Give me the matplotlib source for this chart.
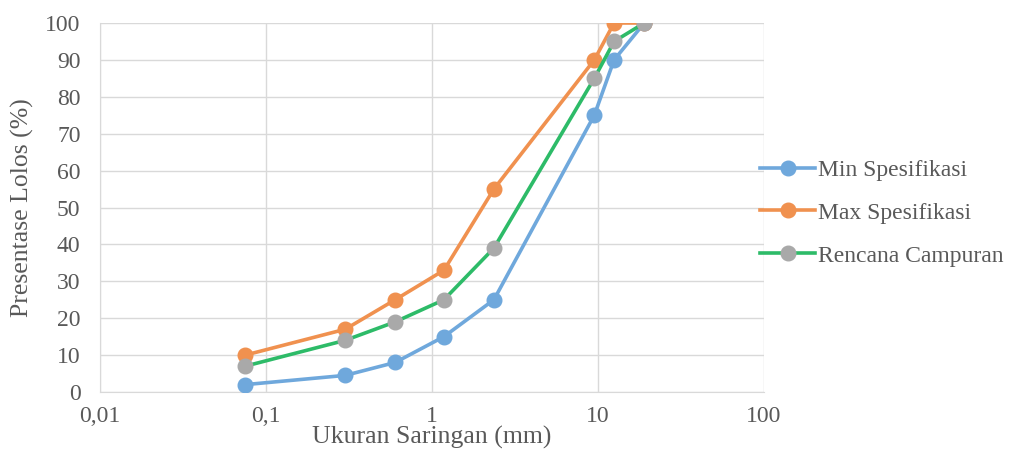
import numpy as np
import matplotlib.pyplot as plt
from matplotlib.ticker import FixedLocator, FixedFormatter, NullLocator

# sieve sizes (mm)
saringan = [0.075, 0.3, 0.6, 1.18, 2.36, 9.5, 12.5, 19]

min_spek = [2, 4.5, 8, 15, 25, 75, 90, 100]
max_spek = [10, 17, 25, 33, 55, 90, 100, 100]
rencana = [7, 14, 19, 25, 39, 85, 95, 100]

x_ticks = [0.01, 0.1, 1, 10, 100]
x_labels = ['0,01', '0,1', '1', '10', '100']

plt.rcParams['font.family'] = ['Liberation Serif', 'DejaVu Serif']
txt = '#595959'

fig = plt.figure(figsize=(10.09, 4.54), dpi=100)
ax = fig.add_axes([100 / 1009, 62 / 454, 664 / 1009, 369 / 454])

ax.plot(saringan, min_spek, color='#6fa8dc', lw=2.6, marker='o', ms=10.5,
        mfc='#6fa8dc', mec='#6fa8dc', label='Min Spesifikasi', zorder=3)
ax.plot(saringan, max_spek, color='#f0914f', lw=2.6, marker='o', ms=10.5,
        mfc='#f0914f', mec='#f0914f', label='Max Spesifikasi', zorder=3)
ax.plot(saringan, rencana, color='#2dbb68', lw=2.6, marker='o', ms=10.5,
        mfc='#a9a9a9', mec='#a9a9a9', label='Rencana Campuran', zorder=4)

ax.set_xscale('log')
ax.set_xlim(0.01, 100)
ax.set_ylim(0, 100)
ax.xaxis.set_major_locator(FixedLocator(x_ticks))
ax.xaxis.set_major_formatter(FixedFormatter(x_labels))
ax.xaxis.set_minor_locator(NullLocator())
ax.set_yticks(np.arange(0, 101, 10))

ax.grid(True, color='#d9d9d9', lw=1)
ax.set_axisbelow(True)
for s in ['top', 'right']:
    ax.spines[s].set_visible(False)
ax.spines['left'].set_color('#d9d9d9')
ax.spines['bottom'].set_color('#d9d9d9')
ax.tick_params(axis='y', length=0, labelsize=17, colors=txt, pad=14)
ax.tick_params(axis='x', length=0, labelsize=17, colors=txt, pad=10)

fig.text(432 / 1009, 1 - 437 / 454, 'Ukuran Saringan (mm)', fontsize=18.5,
         color=txt, ha='center', va='center')
fig.text(22 / 1009, 1 - 208 / 454, 'Presentase Lolos (%)', fontsize=18.5,
         color=txt, ha='center', va='center', rotation=90)

fig.legend(loc='center left', bbox_to_anchor=(760 / 1009, 1 - 213 / 454),
           frameon=False, fontsize=17, labelcolor=txt, handlelength=2.35,
           handletextpad=0.1, labelspacing=0.9, borderpad=0, borderaxespad=0)

fig.savefig('out.png', dpi=100)
